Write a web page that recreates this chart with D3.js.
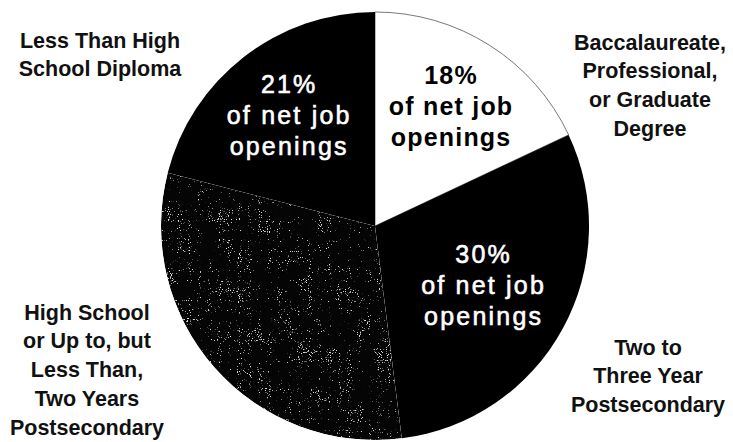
<!DOCTYPE html>
<html>
<head>
<meta charset="utf-8">
<script src="https://cdn.jsdelivr.net/npm/d3@7"></script>
<style>
  html, body { margin: 0; padding: 0; background: #fff; }
  svg { display: block; }
  text { font-family: "Liberation Sans", Arial, Helvetica, sans-serif; }
</style>
</head>
<body>
<svg id="chart" width="733" height="442"></svg>
<script>
// Share of net job openings by education level (clockwise from 12 o'clock)
const categories = [
  "Baccalaureate, Professional, or Graduate Degree",
  "Two to Three Year Postsecondary",
  "High School or Up to, but Less Than, Two Years Postsecondary",
  "Less Than High School Diploma"
];
const shares = [18, 30, 31, 21];
const fills = ["#ffffff", "#000000", "speckle", "#000000"];
const inLabelColors = ["#000000", "#ffffff", null, "#ffffff"];
const inLabelRadius = [142, 124, 0, 140];

// Category captions placed around the pie
const captionLines = [
  ["Baccalaureate,", "Professional,", "or Graduate", "Degree"],
  ["Two to", "Three Year", "Postsecondary"],
  ["High School", "or Up to, but", "Less Than,", "Two Years", "Postsecondary"],
  ["Less Than High", "School Diploma"]
];
const captionAnchors = [[650, 42], [648, 347], [87, 312], [100, 40]];

const svg = d3.select("#chart");
const cx = 375, cy = 226, R = 214;

const defs = svg.append("defs");
// sparse white speckle for the grey (halftone) slice
const f = defs.append("filter").attr("id", "grain")
  .attr("filterUnits", "userSpaceOnUse")
  .attr("x", -R).attr("y", -R).attr("width", 2 * R).attr("height", 2 * R);
f.append("feTurbulence").attr("type", "fractalNoise")
  .attr("baseFrequency", 0.9).attr("numOctaves", 1).attr("seed", 7).attr("result", "fine");
f.append("feTurbulence").attr("type", "fractalNoise")
  .attr("baseFrequency", 0.05).attr("numOctaves", 2).attr("seed", 3).attr("result", "coarse");
f.append("feColorMatrix").attr("in", "fine").attr("type", "matrix")
  .attr("values", "0 0 0 0 1  0 0 0 0 1  0 0 0 0 1  1 0 0 0 0").attr("result", "fa");
f.append("feColorMatrix").attr("in", "coarse").attr("type", "matrix")
  .attr("values", "0 0 0 0 1  0 0 0 0 1  0 0 0 0 1  1 0 0 0 0").attr("result", "ca");
f.append("feComposite").attr("in", "fa").attr("in2", "ca").attr("operator", "arithmetic")
  .attr("k1", 0).attr("k2", 0.7).attr("k3", 0.22).attr("k4", 0).attr("result", "mix");
const ct = f.append("feComponentTransfer").attr("in", "mix");
ct.append("feFuncR").attr("type", "linear").attr("slope", 0).attr("intercept", 1);
ct.append("feFuncG").attr("type", "linear").attr("slope", 0).attr("intercept", 1);
ct.append("feFuncB").attr("type", "linear").attr("slope", 0).attr("intercept", 1);
ct.append("feFuncA").attr("type", "linear").attr("slope", 16).attr("intercept", -9.15);

const pie = d3.pie().sort(null).value(d => d)
  .startAngle(0).endAngle(2 * Math.PI);
const arcs = pie(shares);
const arc = d3.arc().innerRadius(0).outerRadius(R);

const g = svg.append("g").attr("transform", `translate(${cx},${cy})`);

arcs.forEach((a, i) => {
  if (fills[i] === "speckle") {
    defs.append("clipPath").attr("id", "clip" + i)
      .append("path").attr("d", arc(a));
    const sg = g.append("g").attr("clip-path", `url(#clip${i})`);
    sg.append("path").attr("d", arc(a)).attr("fill", "#050505");
    sg.append("rect")
      .attr("x", -R).attr("y", -R).attr("width", 2 * R).attr("height", 2 * R)
      .attr("fill", "#fff")
      .attr("filter", "url(#grain)").attr("opacity", 0.85);
  } else {
    g.append("path").attr("d", arc(a))
      .attr("fill", fills[i])
      .attr("stroke", fills[i] === "#ffffff" ? "#555" : "none")
      .attr("stroke-width", 0.8);
  }
});

// in-slice value labels
arcs.forEach((a, i) => {
  if (!inLabelColors[i]) return;
  const c = d3.arc().innerRadius(inLabelRadius[i]).outerRadius(inLabelRadius[i]).centroid(a);
  const isDark = inLabelColors[i] === "#000000";
  const t = g.append("text")
    .attr("text-anchor", "middle")
    .attr("fill", inLabelColors[i])
    .attr("font-size", 25)
    .attr("font-weight", isDark ? "bold" : "normal")
    .attr("letter-spacing", isDark ? 1.2 : 2.2)
    .attr("stroke", inLabelColors[i])
    .attr("stroke-width", isDark ? 0 : 0.6);
  const lines = [shares[i] + "%", "of net job", "openings"];
  lines.forEach((ln, k) => {
    t.append("tspan").attr("x", c[0]).attr("y", c[1] + (k - 1) * 31)
      .attr("dy", "0.35em").text(ln);
  });
});

// category captions
captionLines.forEach((lines, i) => {
  const t = svg.append("text")
    .attr("text-anchor", "middle")
    .attr("font-size", 21.5)
    .attr("font-weight", "bold")
    .attr("fill", "#111");
  lines.forEach((ln, k) => {
    t.append("tspan").attr("x", captionAnchors[i][0])
      .attr("y", captionAnchors[i][1] + k * 28.8)
      .attr("dy", "0.35em").text(ln);
  });
});
</script>
</body>
</html>
